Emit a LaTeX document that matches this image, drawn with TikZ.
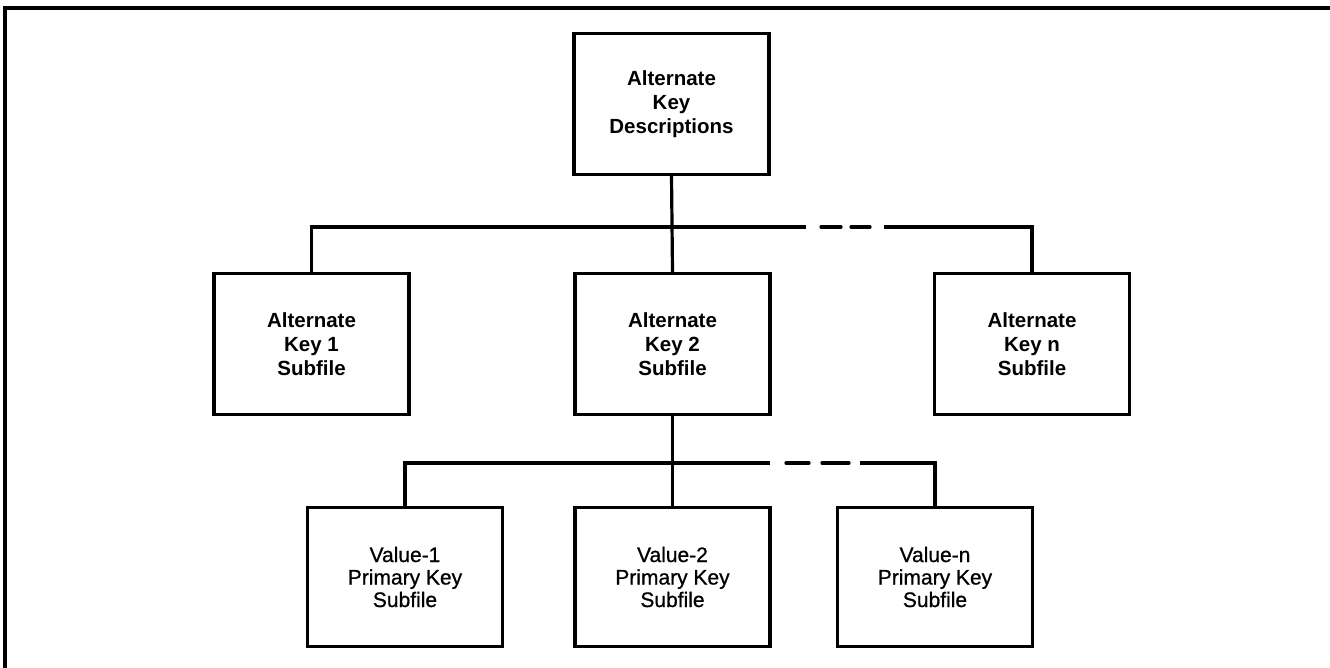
\documentclass[tikz,border=0pt]{standalone}
\usepackage{fontspec}
\setmainfont{Liberation Sans}
\newfontfamily\medfont[FakeBold=0.8]{Liberation Sans}
\begin{document}
\begin{tikzpicture}[x=1pt,y=-1pt,
  upbox/.style={draw,line width=3.2pt,inner sep=0pt,minimum width=195pt,minimum height=141pt,align=center,font=\fontsize{20.5}{24}\selectfont\bfseries},
  lowbox/.style={draw,line width=3.2pt,inner sep=0pt,minimum width=195pt,minimum height=139pt,align=center,font=\medfont\fontsize{21}{22.5}\selectfont},
  link/.style={line width=3.2pt},
  dashseg/.style={line width=3.2pt,line cap=round},
  frame/.style={line width=4pt}]
\useasboundingbox (0,0) rectangle (1330,667);
% frame (top and left edges)
\coordinate (ftl) at (5,8);
\coordinate (ftr) at (1331,8);
\coordinate (fbl) at (5,668);
\draw[frame] (ftr) -- (ftl) -- (fbl);
% boxes
\node[upbox] (top) at (671.5,104) {Alternate\\Key\\Descriptions};
\node[upbox] (k1) at (311.5,344) {Alternate\\Key 1\\Subfile};
\node[upbox] (k2) at (672.5,344) {Alternate\\Key 2\\Subfile};
\node[upbox] (kn) at (1032,344) {Alternate\\Key n\\Subfile};
\node[lowbox] (v1) at (405,577) {Value-1\\Primary Key\\Subfile};
\node[lowbox] (v2) at (672.5,577) {Value-2\\Primary Key\\Subfile};
\node[lowbox] (vn) at (935,577) {Value-n\\Primary Key\\Subfile};
% upper bus
\coordinate (ua) at (806,227);
\coordinate (ud1s) at (821,227);
\coordinate (ud1e) at (841,227);
\coordinate (ud2s) at (851,227);
\coordinate (ud2e) at (870,227);
\coordinate (ub) at (884,227);
\draw[link] (top.south) -- (k2.north);
\draw[link] (k1.north) |- (ua);
\draw[dashseg] (ud1s) -- (ud1e);
\draw[dashseg] (ud2s) -- (ud2e);
\draw[link] (ub) -| (kn.north);
% lower bus
\coordinate (la) at (770,463);
\coordinate (ld1s) at (786,463);
\coordinate (ld1e) at (809,463);
\coordinate (ld2s) at (822,463);
\coordinate (ld2e) at (849,463);
\coordinate (lb) at (860,463);
\draw[link] (k2.south) -- (v2.north);
\draw[link] (v1.north) |- (la);
\draw[dashseg] (ld1s) -- (ld1e);
\draw[dashseg] (ld2s) -- (ld2e);
\draw[link] (lb) -| (vn.north);
\end{tikzpicture}
\end{document}
